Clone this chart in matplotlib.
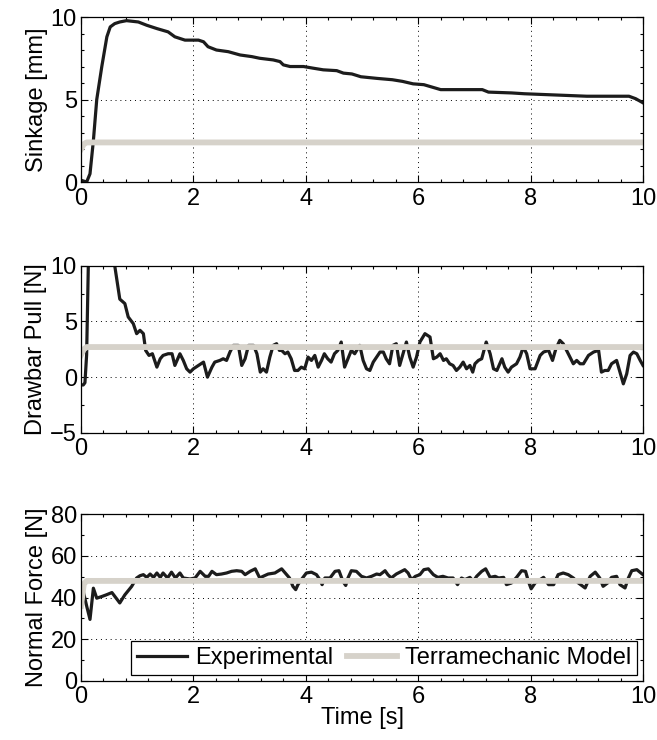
import numpy as np
import matplotlib
matplotlib.use('Agg')
import matplotlib.pyplot as plt
import matplotlib.ticker as mtick

plt.rcParams['font.family'] = ['Liberation Sans', 'DejaVu Sans']

##########################################
## Data
##########################################
# Sinkage [mm]
sink_t = [0.0, 0.01, 0.1, 0.16, 0.22, 0.28, 0.37, 0.46, 0.52, 0.6, 0.69, 0.81, 1.02,
          1.17, 1.35, 1.55, 1.67, 1.85, 2.09, 2.18, 2.26, 2.41, 2.62, 2.83, 3.04, 3.18,
          3.42, 3.54, 3.6, 3.72, 3.96, 4.13, 4.31, 4.55, 4.67, 4.82, 4.98, 5.27, 5.54,
          5.72, 5.91, 6.1, 6.25, 6.4, 6.77, 7.14, 7.25, 7.66, 7.89, 8.26, 8.63, 9.0,
          9.38, 9.75, 9.87, 10.0]
sink_exp = [0.1, 0.1, 0.0, 0.5, 2.5, 5.0, 7.0, 8.8, 9.4, 9.6, 9.7, 9.78, 9.7,
            9.5, 9.3, 9.1, 8.8, 8.6, 8.6, 8.5, 8.2, 8.0, 7.9, 7.7, 7.6, 7.5,
            7.4, 7.3, 7.1, 7.0, 7.0, 6.9, 6.8, 6.75, 6.6, 6.55, 6.38, 6.28, 6.2,
            6.1, 5.95, 5.9, 5.75, 5.6, 5.6, 5.6, 5.45, 5.4, 5.35, 5.3, 5.25, 5.2,
            5.2, 5.2, 5.05, 4.8]
sink_model_t = [0.0, 0.05, 0.1, 10.0]
sink_model = [2.0, 2.3, 2.4, 2.4]

# Drawbar pull [N]
dp_t = [0.0, 0.04, 0.07, 0.1, 0.13, 0.2, 0.5, 0.6, 0.69, 0.78, 0.84, 0.93, 0.99, 1.05,
        1.11, 1.15, 1.21, 1.27, 1.35, 1.41, 1.46, 1.55, 1.62, 1.67, 1.76, 1.82, 1.88,
        1.94, 2.0, 2.09, 2.18, 2.25, 2.33, 2.38, 2.47, 2.53, 2.59, 2.65, 2.71, 2.8,
        2.86, 2.92, 2.98, 3.07, 3.13, 3.19, 3.24, 3.3, 3.36, 3.42, 3.48, 3.53, 3.57,
        3.63, 3.68, 3.74, 3.8, 3.86, 3.92, 3.98, 4.04, 4.1, 4.16, 4.22, 4.28, 4.33,
        4.39, 4.45, 4.51, 4.57, 4.63, 4.69, 4.75, 4.81, 4.87, 4.96, 5.02, 5.08, 5.14,
        5.2, 5.26, 5.32, 5.38, 5.43, 5.49, 5.55, 5.61, 5.67, 5.73, 5.79, 5.85, 5.91,
        5.97, 6.03, 6.12, 6.21, 6.27, 6.33, 6.39, 6.45, 6.5, 6.56, 6.62, 6.68, 6.74,
        6.8, 6.86, 6.92, 6.97, 7.01, 7.07, 7.13, 7.21, 7.28, 7.34, 7.4, 7.49, 7.54,
        7.6, 7.66, 7.75, 7.81, 7.87, 7.93, 7.99, 8.08, 8.17, 8.23, 8.32, 8.39, 8.45,
        8.52, 8.58, 8.64, 8.7, 8.76, 8.82, 8.88, 8.94, 9.03, 9.12, 9.21, 9.26, 9.32,
        9.38, 9.44, 9.53, 9.59, 9.65, 9.71, 9.77, 9.83, 9.89, 9.95, 10.0]
dp_exp = [-0.7, -0.7, -0.5, 2.0, 10.0, 14.0, 14.0, 10.0, 7.0, 6.6, 5.4, 4.8, 3.9, 4.2,
          3.9, 2.4, 1.95, 2.1, 0.9, 1.65, 1.95, 2.1, 2.1, 1.05, 2.1, 1.5, 0.75,
          0.45, 0.75, 1.05, 1.35, 0.0, 0.9, 1.35, 1.5, 1.65, 1.5, 2.25, 2.85, 2.85,
          1.05, 1.65, 2.85, 2.85, 2.1, 0.45, 0.75, 0.45, 1.8, 2.85, 3.0, 2.4, 2.4,
          2.1, 2.25, 1.65, 0.6, 0.6, 0.9, 0.75, 1.8, 1.5, 1.95, 0.9, 1.5, 2.1,
          1.65, 1.35, 2.1, 2.4, 3.15, 0.9, 1.65, 2.4, 2.1, 2.85, 1.5, 0.75, 0.6,
          1.35, 1.8, 2.25, 2.25, 1.65, 1.2, 2.85, 3.0, 1.05, 2.1, 3.15, 1.8, 0.9,
          1.8, 3.15, 3.9, 3.6, 1.65, 1.8, 2.1, 1.5, 1.65, 1.2, 1.05, 0.6, 0.9,
          1.35, 0.75, 1.05, 0.45, 1.2, 1.5, 1.65, 3.15, 2.1, 0.75, 0.6, 1.65, 0.9,
          0.45, 0.9, 1.2, 1.8, 2.7, 2.1, 0.75, 0.75, 1.95, 2.25, 2.4, 1.5, 2.55,
          3.3, 3.0, 2.4, 1.8, 1.2, 1.5, 1.2, 1.2, 1.95, 2.25, 2.4, 0.45, 0.6,
          0.6, 1.2, 1.5, 0.45, -0.6, 0.3, 1.95, 2.25, 2.1, 1.5, 1.05]
dp_model_t = [0.0, 0.05, 0.1, 10.0]
dp_model = [2.0, 2.5, 2.7, 2.7]

# Normal force [N]
nf_t = [0.0, 0.04, 0.1, 0.16, 0.22, 0.28, 0.37, 0.45, 0.55, 0.69, 0.78, 0.9, 0.99,
        1.05, 1.11, 1.17, 1.23, 1.29, 1.35, 1.41, 1.46, 1.54, 1.61, 1.68, 1.76, 1.82,
        1.94, 2.03, 2.12, 2.21, 2.27, 2.33, 2.41, 2.5, 2.59, 2.68, 2.77, 2.86, 2.92,
        3.01, 3.1, 3.18, 3.24, 3.33, 3.45, 3.57, 3.66, 3.71, 3.77, 3.82, 3.86, 3.92,
        4.01, 4.1, 4.19, 4.25, 4.29, 4.34, 4.43, 4.52, 4.59, 4.66, 4.71, 4.75, 4.81,
        4.9, 4.99, 5.08, 5.17, 5.26, 5.32, 5.41, 5.46, 5.52, 5.61, 5.76, 5.82, 5.88,
        5.95, 6.03, 6.1, 6.18, 6.27, 6.35, 6.44, 6.53, 6.62, 6.7, 6.77, 6.83, 6.92,
        6.98, 7.04, 7.13, 7.2, 7.28, 7.37, 7.43, 7.52, 7.57, 7.66, 7.75, 7.84, 7.91,
        7.96, 8.01, 8.08, 8.17, 8.23, 8.32, 8.41, 8.49, 8.58, 8.67, 8.76, 8.85, 8.97,
        9.06, 9.15, 9.23, 9.29, 9.37, 9.44, 9.53, 9.59, 9.68, 9.74, 9.8, 9.89, 10.0]
nf_exp = [40.0, 43.0, 36.0, 29.5, 44.5, 39.7, 40.5, 41.3, 42.4, 37.4, 41.3, 45.3, 49.4,
          50.5, 51.0, 49.7, 51.3, 49.7, 51.8, 49.7, 51.8, 49.4, 52.2, 49.4, 51.8, 49.4,
          48.9, 49.4, 52.6, 50.2, 50.2, 52.6, 51.0, 51.3, 51.8, 52.6, 52.9, 52.6, 51.0,
          52.6, 53.8, 49.4, 50.2, 51.3, 51.8, 53.8, 51.0, 49.4, 45.4, 43.8, 46.2, 48.6,
          51.8, 52.2, 51.0, 48.6, 46.2, 49.4, 49.4, 52.6, 52.9, 47.8, 45.8, 49.4, 52.9,
          52.6, 50.2, 49.4, 50.2, 51.3, 51.0, 52.9, 51.0, 49.4, 51.3, 53.4, 51.8, 48.6,
          50.2, 51.0, 53.4, 53.8, 51.0, 49.7, 50.2, 49.4, 49.4, 46.2, 49.4, 48.6, 49.7,
          47.8, 50.2, 52.6, 53.8, 49.7, 50.2, 49.4, 49.7, 46.2, 47.0, 49.7, 52.9, 52.6,
          47.8, 44.2, 47.0, 48.6, 49.7, 46.2, 46.2, 51.0, 51.8, 51.0, 49.4, 47.0, 44.6,
          50.2, 52.2, 49.4, 45.4, 47.0, 49.7, 50.2, 46.2, 44.6, 49.4, 52.9, 53.4, 51.0]
nf_model_t = [0.0, 0.05, 0.1, 10.0]
nf_model = [36.0, 46.5, 48.0, 48.0]

ylabels = ['Sinkage [mm]', 'Drawbar Pull [N]', 'Normal Force [N]']
ylims = [(0, 10), (-5, 10), (0, 80)]
ymajor = [5, 5, 20]
yminor = [1, 2.5, 10]

##########################################
## Plot
##########################################
fontsize = 17
exp_color = '#1c1c1c'
model_color = '#d6d2ca'

fig = plt.figure(figsize=(6.57, 7.4), dpi=100)
fig.patch.set_facecolor('white')
boxes = [[0.1233, 0.754, 0.8554, 0.223],
         [0.1233, 0.415, 0.8554, 0.226],
         [0.1233, 0.080, 0.8554, 0.225]]
series = [(sink_t, sink_exp, sink_model_t, sink_model),
          (dp_t, dp_exp, dp_model_t, dp_model),
          (nf_t, nf_exp, nf_model_t, nf_model)]

for i in range(3):
    ax = fig.add_axes(boxes[i])
    t, y, tm, ym = series[i]
    ax.plot(t, y, color=exp_color, lw=2.3, solid_joinstyle='round', label='Experimental')
    ax.plot(tm, ym, color=model_color, lw=4.2, label='Terramechanic Model')
    ax.set_xlim(0, 10)
    ax.set_ylim(*ylims[i])
    ax.xaxis.set_major_locator(mtick.MultipleLocator(2))
    ax.xaxis.set_minor_locator(mtick.MultipleLocator(0.4))
    ax.yaxis.set_major_locator(mtick.MultipleLocator(ymajor[i]))
    ax.yaxis.set_minor_locator(mtick.MultipleLocator(yminor[i]))
    ax.tick_params(axis='both', which='both', direction='in', top=True, right=True,
                   labelsize=fontsize, width=0.8)
    ax.tick_params(axis='both', which='major', length=5)
    ax.tick_params(axis='x', which='major', pad=4)
    ax.tick_params(axis='y', which='major', pad=3)
    ax.tick_params(axis='both', which='minor', length=2.5)
    ax.grid(True, which='major', color='k', linestyle=(0, (1, 4)), lw=0.7)
    ax.set_ylabel(ylabels[i], fontsize=fontsize, labelpad=2)
    for s in ax.spines.values():
        s.set_linewidth(0.9)
    if i == 2:
        ax.set_xlabel('Time [s]', fontsize=fontsize, labelpad=-1)
        leg = ax.legend(loc='lower right', ncol=2, fontsize=fontsize, fancybox=False,
                        edgecolor='k', framealpha=1, handlelength=2.1,
                        columnspacing=0.6, handletextpad=0.35, borderaxespad=0.25,
                        borderpad=0.25)
        leg.get_frame().set_linewidth(0.9)

plt.savefig('out.png', dpi=100)
